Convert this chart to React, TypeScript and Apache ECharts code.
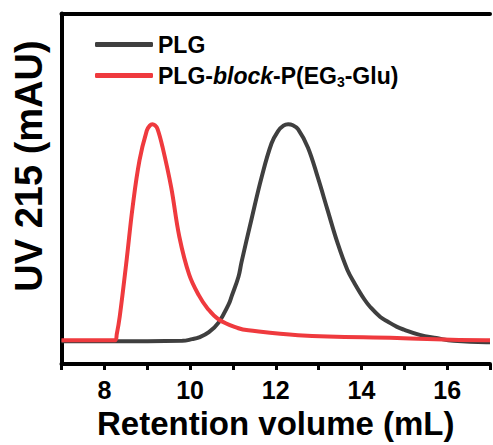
import React, { useEffect, useRef } from "react";
import * as echarts from "echarts";

const plgX = [7.0, 8.2, 9.82, 10.05, 10.21, 10.44, 10.67, 10.9, 10.97, 11.13, 11.2, 11.43, 11.67, 11.9, 12.05, 12.18, 12.29, 12.4, 12.52, 12.75, 12.98, 13.21, 13.44, 13.67, 13.84, 14.07, 14.21, 14.44, 14.6, 14.83, 14.99, 15.36, 15.75, 16.15, 16.91, 17.0];
const plgY = [6.5, 6.5, 6.6, 7.1, 7.6, 9.1, 11.9, 17.0, 19.3, 24.9, 29.0, 41.1, 53.3, 62.9, 66.4, 68.0, 68.4, 68.1, 67.0, 61.8, 53.3, 43.9, 34.6, 26.9, 23.0, 18.4, 16.2, 13.4, 12.2, 10.6, 9.8, 8.3, 7.4, 6.6, 6.2, 6.2];

const blockX = [7.0, 8.25, 8.29, 8.36, 8.52, 8.66, 8.82, 8.99, 9.06, 9.12, 9.18, 9.24, 9.36, 9.56, 9.75, 9.98, 10.21, 10.4, 10.67, 11.13, 11.36, 12.52, 14.83, 16.9, 17.0];
const blockY = [6.8, 6.8, 8.5, 13.6, 29.7, 44.8, 58.1, 66.6, 68.0, 68.4, 68.1, 67.1, 61.8, 50.4, 36.3, 25.5, 19.5, 16.0, 12.7, 10.2, 9.6, 8.2, 7.4, 6.8, 6.8];

const xTicks = [8, 10, 12, 14, 16];
const seriesNames = ["PLG", "PLG-block-P(EG3-Glu)"];
const yTitle = "UV 215 (mAU)";
const xTitle = "Retention volume (mL)";
const FONT = "'Liberation Sans', Arial, sans-serif";

export default function App() {
  const ref = useRef<HTMLDivElement>(null);
  useEffect(() => {
    if (!ref.current) return;
    const chart = echarts.init(ref.current, null, { renderer: "svg" });
    const frameLine = { show: true, lineStyle: { color: "#000", width: 4 } };
    chart.setOption({
      animation: false,
      grid: {
        left: 61.5,
        top: 13.5,
        bottom: 80.5,
        right: -3.5,
      },
      legend: {
        left: 90,
        top: 28,
        orient: "vertical",
        icon: "roundRect",
        itemWidth: 58,
        itemHeight: 5,
        itemGap: 8,
        data: seriesNames,
        formatter: (name: string) =>
          name === seriesNames[0]
            ? "{b|PLG}"
            : "{b|PLG-}{i|block}{b|-P(EG}{s|3}{b|-Glu)}",
        textStyle: {
          fontFamily: FONT,
          fontSize: 23,
          fontWeight: "bold",
          color: "#000",
          rich: {
            b: { fontFamily: FONT, fontSize: 23, fontWeight: "bold", color: "#000" },
            i: { fontFamily: FONT, fontSize: 23, fontWeight: "bold", fontStyle: "italic", color: "#000" },
            s: { fontFamily: FONT, fontSize: 14, fontWeight: "bold", color: "#000", padding: [12, 0, 0, 0] },
          },
        },
      },
      xAxis: [
        {
          type: "value",
          min: 7,
          max: 17,
          interval: 1,
          name: xTitle,
          nameLocation: "middle",
          nameGap: 43,
          nameTextStyle: { fontFamily: FONT, fontSize: 33, fontWeight: "bold", color: "#000" },
          axisLine: frameLine,
          axisTick: { show: true, inside: false, length: 6, lineStyle: { color: "#000", width: 3 } },
          axisLabel: {
            margin: 13,
            fontFamily: FONT,
            fontSize: 25,
            fontWeight: "bold",
            color: "#000",
            formatter: (v: number) => (xTicks.includes(v) ? String(v) : ""),
          },
          splitLine: { show: false },
        },
        {
          type: "value",
          position: "top",
          min: 7,
          max: 17,
          axisLine: frameLine,
          axisTick: { show: false },
          axisLabel: { show: false },
          splitLine: { show: false },
        },
      ],
      yAxis: {
        type: "value",
        min: 0,
        max: 100,
        axisLine: frameLine,
        axisTick: { show: false },
        axisLabel: { show: false },
        splitLine: { show: false },
      },
      graphic: [
        {
          type: "text",
          x: 29,
          y: 166,
          rotation: Math.PI / 2,
          style: {
            text: yTitle,
            fontFamily: FONT,
            fontSize: 38,
            fontWeight: "bold",
            fill: "#000",
            align: "center",
            verticalAlign: "middle",
          },
        },
      ],
      series: [
        {
          name: seriesNames[0],
          type: "line",
          data: plgX.map((x, i) => [x, plgY[i]]),
          smooth: 0.4,
          symbol: "none",
          lineStyle: { color: "#3f3f3f", width: 4 },
          itemStyle: { color: "#3f3f3f" },
          z: 2,
        },
        {
          name: seriesNames[1],
          type: "line",
          data: blockX.map((x, i) => [x, blockY[i]]),
          smooth: 0.4,
          symbol: "none",
          lineStyle: { color: "#ef3a3e", width: 4 },
          itemStyle: { color: "#ef3a3e" },
          z: 3,
        },
      ],
    });
    return () => chart.dispose();
  }, []);
  return <div ref={ref} style={{ width: 493, height: 445, position: "absolute", left: 0, top: 0 }} />;
}
